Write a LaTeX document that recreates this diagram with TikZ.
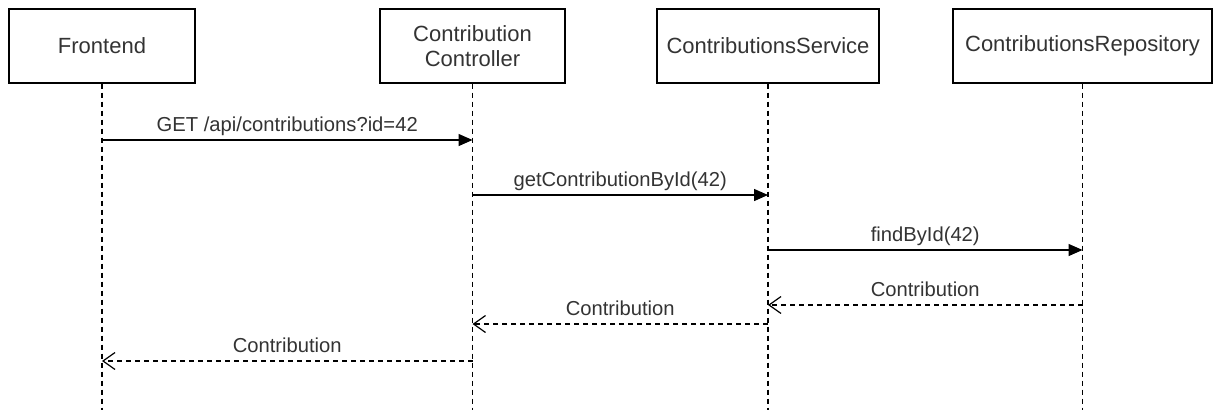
\documentclass[tikz,border=0pt]{standalone}
\usepackage{fontspec}
\setmainfont{Liberation Sans}
\usetikzlibrary{arrows.meta}
\definecolor{txtgray}{HTML}{333333}
\begin{document}
\begin{tikzpicture}[x=1pt,y=-1pt,
  actor/.style={draw=black, line width=1.3pt, minimum height=74pt, inner sep=0pt,
    align=center, font=\fontsize{22}{25}\selectfont, text=txtgray},
  lifeline/.style={draw=black, line width=1.2pt, dash pattern=on 5pt off 4pt},
  callmsg/.style={draw=black, line width=1.4pt, -{Triangle[length=14pt,width=12pt]}},
  retmsg/.style={draw=black, line width=1.2pt, dash pattern=on 5pt off 4pt,
    -{Straight Barb[length=12pt,width=17pt,line width=1.2pt]}},
  msglabel/.style={font=\fontsize{20.2}{23}\selectfont, text=txtgray,
    anchor=base, inner sep=0pt, yshift=9pt}]
\useasboundingbox (0,0) rectangle (1213,410);

% participants
\node[actor, minimum width=186pt] (fe)   at (102,46)    {Frontend};
\node[actor, minimum width=185pt] (ctl)  at (472.5,46)  {Contribution\\Controller};
\node[actor, minimum width=222pt] (svc)  at (768,46)    {ContributionsService};
\node[actor, minimum width=259pt] (repo) at (1082.5,46) {ContributionsRepository};

% lifeline ends
\coordinate (feEnd)   at (fe.south |- 0,410);
\coordinate (ctlEnd)  at (ctl.south |- 0,410);
\coordinate (svcEnd)  at (svc.south |- 0,410);
\coordinate (repoEnd) at (repo.south |- 0,410);
\draw[lifeline] (fe.south)   -- (feEnd);
\draw[lifeline] (ctl.south)  -- (ctlEnd);
\draw[lifeline] (svc.south)  -- (svcEnd);
\draw[lifeline] (repo.south) -- (repoEnd);

% message anchor points on the lifelines
\coordinate (m1a) at (fe.south |- 0,140);   \coordinate (m1b) at (ctl.south |- 0,140);
\coordinate (m2a) at (ctl.south |- 0,195);  \coordinate (m2b) at (svc.south |- 0,195);
\coordinate (m3a) at (svc.south |- 0,250);  \coordinate (m3b) at (repo.south |- 0,250);
\coordinate (m4a) at (repo.south |- 0,305); \coordinate (m4b) at (svc.south |- 0,305);
\coordinate (m5a) at (svc.south |- 0,324);  \coordinate (m5b) at (ctl.south |- 0,324);
\coordinate (m6a) at (ctl.south |- 0,361);  \coordinate (m6b) at (fe.south |- 0,361);

% calls
\draw[callmsg] (m1a) -- node[msglabel] {GET /api/contributions?id=42} (m1b);
\draw[callmsg] (m2a) -- node[msglabel] {getContributionById(42)} (m2b);
\draw[callmsg] (m3a) -- node[msglabel] {findById(42)} (m3b);

% returns
\draw[retmsg] (m4a) -- node[msglabel] {Contribution} (m4b);
\draw[retmsg] (m5a) -- node[msglabel] {Contribution} (m5b);
\draw[retmsg] (m6a) -- node[msglabel] {Contribution} (m6b);
\end{tikzpicture}
\end{document}
